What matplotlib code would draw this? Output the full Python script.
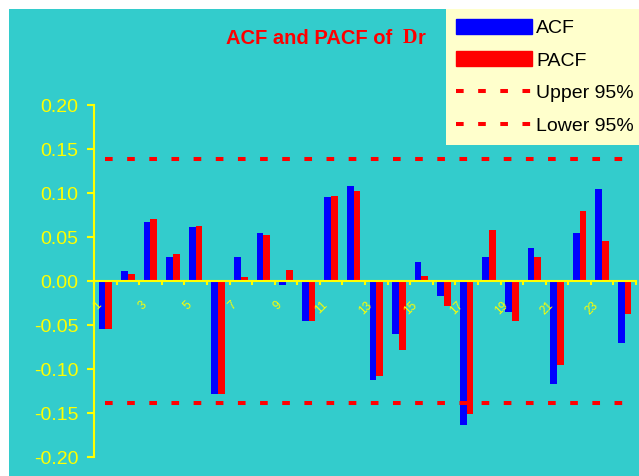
import numpy as np
import matplotlib
matplotlib.use('Agg')
import matplotlib.pyplot as plt
import matplotlib.transforms as mtransforms
from matplotlib.patches import Rectangle, Patch
from matplotlib.lines import Line2D
from matplotlib.ticker import FuncFormatter

plt.rcParams['font.family'] = ['Liberation Sans', 'DejaVu Sans']
plt.rcParams['axes.unicode_minus'] = False

lags = np.arange(1, 25)
acf = [-0.055, 0.011, 0.067, 0.027, 0.061, -0.128, 0.027, 0.054, -0.005, -0.046, 0.095, 0.108,
       -0.112, -0.060, 0.022, -0.017, -0.164, 0.027, -0.035, 0.038, -0.117, 0.054, 0.104, -0.071]
pacf = [-0.055, 0.008, 0.070, 0.031, 0.063, -0.128, 0.004, 0.052, 0.013, -0.046, 0.097, 0.102,
        -0.108, -0.078, 0.006, -0.028, -0.151, 0.058, -0.046, 0.027, -0.096, 0.079, 0.045, -0.037]
upper = 0.139
lower = -0.139
tick_lags = lags[::2]
tick_labels = [str(k) for k in tick_lags]

cyan = '#33CCCC'
yellow = '#FFFF00'
dash = (0, (1.9, 3.6))

fig = plt.figure(figsize=(6.39, 4.76), dpi=100, facecolor='white')
fig.patches.append(Rectangle((9 / 639, 0), 1, 1 - 9 / 476, transform=fig.transFigure,
                             facecolor=cyan, edgecolor='none', zorder=-10))

ax = fig.add_axes([94 / 639, 1 - 457 / 476, 542 / 639, 352 / 476])
ax.set_facecolor('none')

w = 0.3
ax.bar(lags - w / 2, acf, w, color='#0000FF', zorder=2)
ax.bar(lags + w / 2, pacf, w, color='#FF0000', zorder=2)
ax.plot(lags, [upper] * len(lags), color='#FF0000', lw=2.9, linestyle=dash, zorder=3)
ax.plot(lags, [lower] * len(lags), color='#FF0000', lw=2.9, linestyle=dash, zorder=3)

ax.set_xlim(0.5, 24.5)
ax.set_ylim(-0.2, 0.2)

for s in ['top', 'right']:
    ax.spines[s].set_visible(False)
ax.spines['left'].set_color(yellow)
ax.spines['left'].set_linewidth(1.5)
ax.spines['bottom'].set_color(yellow)
ax.spines['bottom'].set_linewidth(1.5)
ax.spines['bottom'].set_position(('data', 0))
ax.spines['bottom'].set_zorder(4)
ax.xaxis.set_zorder(5)

ax.set_yticks(np.arange(-0.2, 0.201, 0.05))
ax.yaxis.set_major_formatter(FuncFormatter(lambda v, p: '%.2f' % (round(v, 2) + 0.0)))
ax.tick_params(axis='y', colors=yellow, labelsize=14, length=5, width=1.5, pad=6)

ax.set_xticks(tick_lags)
ax.set_xticklabels(tick_labels, rotation=45, ha='right', va='top', rotation_mode='anchor')
ax.set_xticks(np.arange(0.5, 24.6, 1), minor=True)
ax.tick_params(axis='x', which='major', length=0, colors=yellow, labelsize=8.5, pad=13)
ax.tick_params(axis='x', which='minor', length=3, width=1.5, color=yellow)
shift = mtransforms.ScaledTranslation(-10 / 100, 0, fig.dpi_scale_trans)
for lab in ax.get_xticklabels():
    lab.set_transform(lab.get_transform() + shift)

# title with a serif D
t1 = fig.text(226 / 639, 1 - 44 / 476, 'ACF and PACF of ', color='#FF0000',
              fontsize=14.5, fontweight='bold', ha='left', va='baseline')
t2 = ax.annotate(' D', xy=(1, 0), xycoords=t1, va='bottom', ha='left', color='#FF0000',
                 fontsize=14.5, fontweight='bold', family='Liberation Serif',
                 annotation_clip=False)
ax.annotate('r', xy=(1, 0), xycoords=t2, va='bottom', ha='left', color='#FF0000',
            fontsize=14.5, fontweight='bold', annotation_clip=False)

handles = [Patch(color='#0000FF'), Patch(color='#FF0000'),
           Line2D([], [], color='#FF0000', lw=2.9, linestyle=dash),
           Line2D([], [], color='#FF0000', lw=2.9, linestyle=dash)]
leg = fig.legend(handles, ['ACF', 'PACF', 'Upper 95%', 'Lower 95%'],
                 loc='upper left', bbox_to_anchor=(446 / 639, 1 - 9 / 476),
                 fontsize=14, frameon=True, fancybox=False, facecolor='#FFFFCC',
                 edgecolor='none', framealpha=1, handlelength=3.9, handleheight=0.8,
                 handletextpad=0.25, labelspacing=0.75, borderpad=0.5, borderaxespad=0)

fig.savefig('out.png', dpi=100)
